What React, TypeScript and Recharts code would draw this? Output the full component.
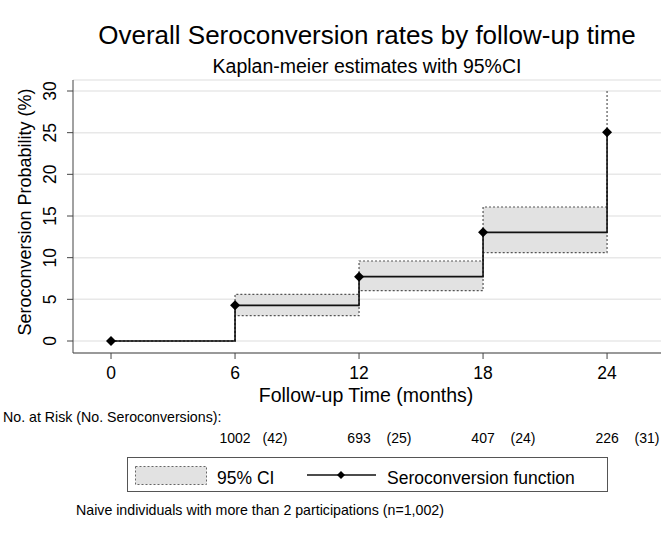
import { ComposedChart, Line, Area, XAxis, YAxis, CartesianGrid } from "recharts"

// Kaplan-Meier step estimate (%)
const months = [0, 6, 12, 18, 24]
const seroconversion = [0, 4.28, 7.72, 13.04, 25.04]
const ciLower = [0, 3.04, 6.04, 10.6, 19.0]
const ciUpper = [0, 5.6, 9.6, 16.08, 30.0]

// number-at-risk table
const riskTimes = [6, 12, 18, 24]
const atRisk = [1002, 693, 407, 226]
const events = [42, 25, 24, 31]

const xTicks = [0, 6, 12, 18, 24]
const yTicks = [0, 5, 10, 15, 20, 25, 30]

const data = months.map((t, i) => ({
  t,
  est: seroconversion[i],
  ci: [ciLower[i], ciUpper[i]],
}))

const font = '"Liberation Sans", Arial, Helvetica, sans-serif'
const ink = "#000"

function TimeTick({ x, y, payload }: any) {
  const i = riskTimes.indexOf(payload.value)
  return (
    <g>
      <text x={x} y={y + 18} textAnchor="middle" fontSize={17.5} fill={ink}>
        {payload.value}
      </text>
      {i >= 0 && (
        <>
          <text x={x} y={y + 82} textAnchor="middle" fontSize={14} fill={ink}>
            {atRisk[i]}
          </text>
          <text x={x + 40} y={y + 82} textAnchor="middle" fontSize={14} fill={ink}>
            ({events[i]})
          </text>
        </>
      )}
    </g>
  )
}

function ProbTick({ x, y, payload }: any) {
  return (
    <text
      transform={`translate(${x - 9},${y}) rotate(-90)`}
      textAnchor="middle"
      fontSize={17.5}
      fill={ink}
    >
      {payload.value}
    </text>
  )
}

function Diamond(props: any) {
  const { cx, cy, key } = props
  const r = 5
  return (
    <polygon
      key={key}
      points={`${cx},${cy - r} ${cx + r},${cy} ${cx},${cy + r} ${cx - r},${cy}`}
      fill={ink}
    />
  )
}

export default function App() {
  return (
    <div style={{ position: "absolute", left: 0, top: 0, width: 666, height: 542, background: "#fff", fontFamily: font }}>
      <ComposedChart
        width={666}
        height={542}
        data={data}
        margin={{ top: 80, right: 5, left: 0, bottom: 159 }}
      >
        <CartesianGrid horizontal vertical={false} stroke="#e8e8e8" strokeWidth={1.5} />
        <XAxis
          dataKey="t"
          type="number"
          domain={[-1.84, 26.61]}
          allowDataOverflow
          ticks={xTicks}
          tick={<TimeTick />}
          tickSize={6}
          height={30}
          stroke="#444"
          interval={0}
        />
        <YAxis
          type="number"
          domain={[-1.44, 31.32]}
          allowDataOverflow
          ticks={yTicks}
          tick={<ProbTick />}
          tickSize={6}
          width={73}
          stroke="#444"
          interval={0}
        />
        <Area
          dataKey="ci"
          type="stepAfter"
          fill="#e2e2e2"
          fillOpacity={1}
          stroke="#555"
          strokeWidth={1.2}
          strokeDasharray="2 2"
          isAnimationActive={false}
          dot={false}
          activeDot={false}
        />
        <Line
          dataKey="est"
          type="stepAfter"
          stroke="#111"
          strokeWidth={1.6}
          dot={Diamond}
          activeDot={false}
          isAnimationActive={false}
        />
      </ComposedChart>
      <svg
        width={666}
        height={542}
        style={{ position: "absolute", left: 0, top: 0, pointerEvents: "none" }}
        fontFamily={font}
      >
        <text x={367} y={44} textAnchor="middle" fontSize={26} fill={ink}>
          Overall Seroconversion rates by follow-up time
        </text>
        <text x={367} y={73} textAnchor="middle" fontSize={19.5} fill={ink}>
          Kaplan-meier estimates with 95%CI
        </text>
        <text transform="translate(31,212) rotate(-90)" textAnchor="middle" fontSize={18} fill={ink}>
          Seroconversion Probability (%)
        </text>
        <text x={366} y={402} textAnchor="middle" fontSize={19.5} fill={ink}>
          Follow-up Time (months)
        </text>
        <text x={3} y={422} fontSize={14.2} fill={ink}>
          No. at Risk (No. Seroconversions):
        </text>
        <rect x={127.5} y={457.5} width={480} height={34} fill="#fff" stroke="#555" />
        <rect x={135.5} y={466.5} width={71} height={18} fill="#e2e2e2" stroke="#666" strokeDasharray="2 2" />
        <text x={217} y={484} fontSize={17.5} fill={ink}>95% CI</text>
        <line x1={307} y1={475} x2={376} y2={475} stroke="#111" strokeWidth={1.6} />
        <polygon points="341,471 345,475 341,479 337,475" fill={ink} />
        <text x={387} y={484} fontSize={17.5} fill={ink}>Seroconversion function</text>
        <text x={76} y={515} fontSize={14.2} fill={ink}>
          Naive individuals with more than 2 participations (n=1,002)
        </text>
      </svg>
    </div>
  )
}
